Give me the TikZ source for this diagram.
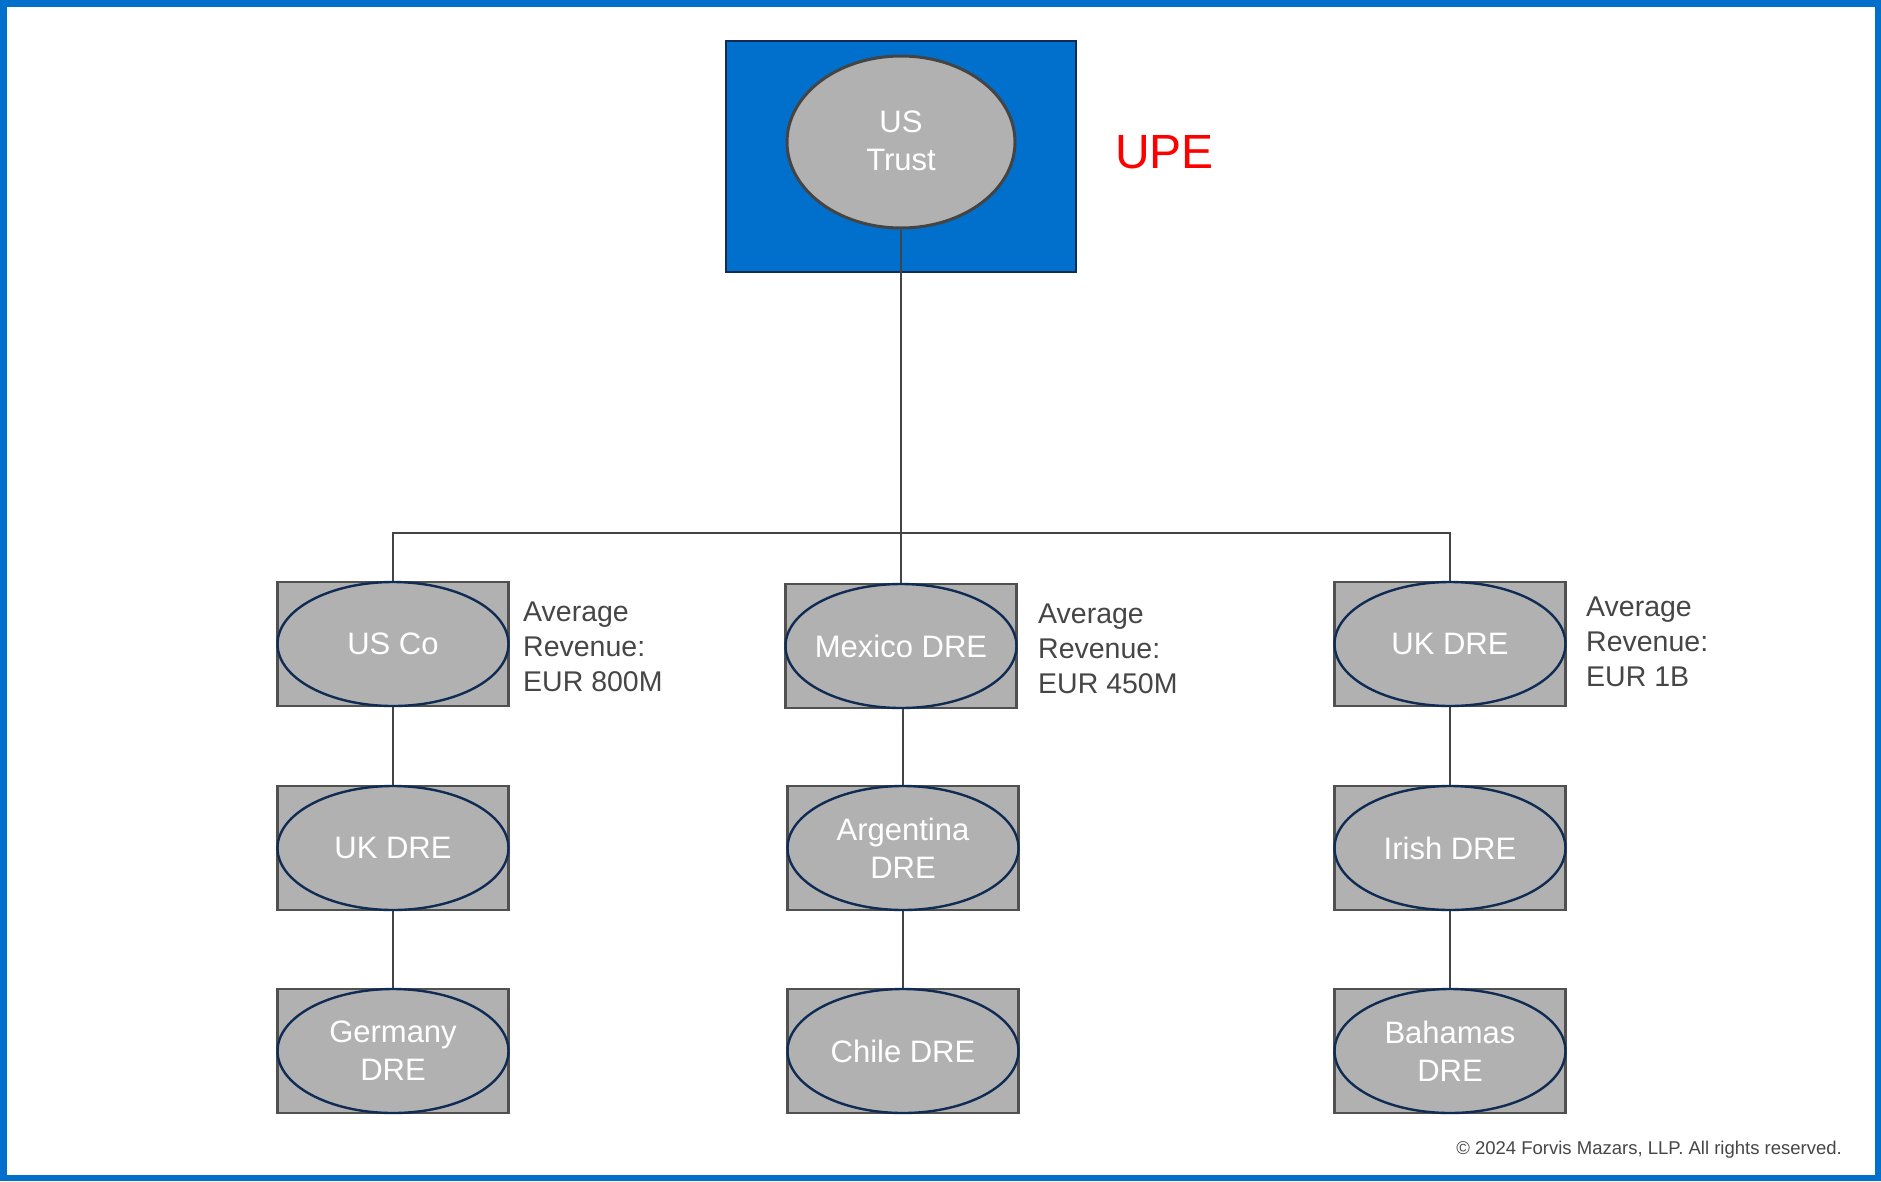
\documentclass[tikz,border=0pt]{standalone}
\usepackage{fontspec}
\setmainfont{Liberation Sans}
\usetikzlibrary{shapes.geometric}

\definecolor{frameblue}{RGB}{0,112,204}
\definecolor{navy}{RGB}{16,44,84}
\definecolor{entgray}{RGB}{176,177,176}
\definecolor{edgegray}{RGB}{80,80,80}
\definecolor{linegray}{RGB}{68,68,68}
\definecolor{labelgray}{RGB}{70,70,70}
\definecolor{upered}{RGB}{255,0,0}

\tikzset{
  entbox/.style={rectangle, minimum width=231pt, minimum height=124pt,
    inner sep=0pt, fill=entgray, draw=edgegray, line width=2.5pt},
  entell/.style={ellipse, minimum width=231pt, minimum height=124pt,
    inner sep=0pt, draw=navy, line width=2.4pt},
  enttext/.style={text=white, align=center, inner sep=0pt,
    font=\fontsize{31}{38}\selectfont},
  revlabel/.style={anchor=west, align=left, text=labelgray, inner sep=0pt,
    font=\fontsize{28.5}{35}\selectfont},
  link/.style={draw=linegray, line width=2.8pt}
}

% one entity: a grey box with an ellipse inscribed in it and its name on top
\newcommand\entitynode[3]{%
  \node[entbox] (#1) at (#2) {};
  \node[entell] (#1e) at (#2) {};
  \node[enttext] (#1t) at (#2) {#3};
}

\begin{document}
\begin{tikzpicture}[x=1pt, y=-1pt]
  % page frame
  \fill[frameblue] (0,0) rectangle (1881,1181);
  \fill[white] (7,7) rectangle (1875,1175);
  \useasboundingbox (0,0) rectangle (1881,1181);

  % ultimate parent
  \node[rectangle, minimum width=350pt, minimum height=231pt, inner sep=0pt,
        fill=frameblue, draw=navy, line width=2.5pt] (upe) at (901,156.5) {};
  \node[ellipse, minimum width=228pt, minimum height=172pt, inner sep=0pt,
        fill=entgray, draw=linegray, line width=3pt] (trust) at (901,142) {};
  \node[enttext] (trusttext) at (901,141) {US\\Trust};
  \node[text=upered, font=\fontsize{48}{56}\selectfont, anchor=west, inner sep=0pt]
        (upelabel) at (1115,152) {UPE};

  % first tier
  \entitynode{usco}{393,644}{US Co}
  \entitynode{mex}{901,646}{Mexico DRE}
  \entitynode{uk}{1450,644}{UK DRE}

  % second tier
  \entitynode{ukdre}{393,848}{UK DRE}
  \entitynode{arg}{903,848}{Argentina\\DRE}
  \entitynode{irish}{1450,848}{Irish DRE}

  % third tier
  \entitynode{ger}{393,1051}{Germany\\DRE}
  \entitynode{chile}{903,1051}{Chile DRE}
  \entitynode{bah}{1450,1051}{Bahamas\\DRE}

  % revenue notes
  \node[revlabel] (revusco) at (523,647) {Average\\Revenue:\\EUR 800M};
  \node[revlabel] (revmex) at (1038,649) {Average\\Revenue:\\EUR 450M};
  \node[revlabel] (revuk) at (1586,642) {Average\\Revenue:\\EUR 1B};

  % ownership lines
  \coordinate (bus) at (901,533);
  \draw[link] (trust.south) -- (mex.north);
  \draw[link] (usco.north) |- (bus) -| (uk.north);
  \draw[link] (usco.south) -- (ukdre.north);
  \draw[link] (ukdre.south) -- (ger.north);
  \draw[link] (mex.south -| arg.north) -- (arg.north);
  \draw[link] (arg.south) -- (chile.north);
  \draw[link] (uk.south) -- (irish.north);
  \draw[link] (irish.south) -- (bah.north);

  % footer
  \node[anchor=east, text=labelgray, inner sep=0pt,
        font=\fontsize{18.5}{22}\selectfont] (copyright) at (1842,1150)
        {© 2024 Forvis Mazars, LLP. All rights reserved.};
\end{tikzpicture}
\end{document}
